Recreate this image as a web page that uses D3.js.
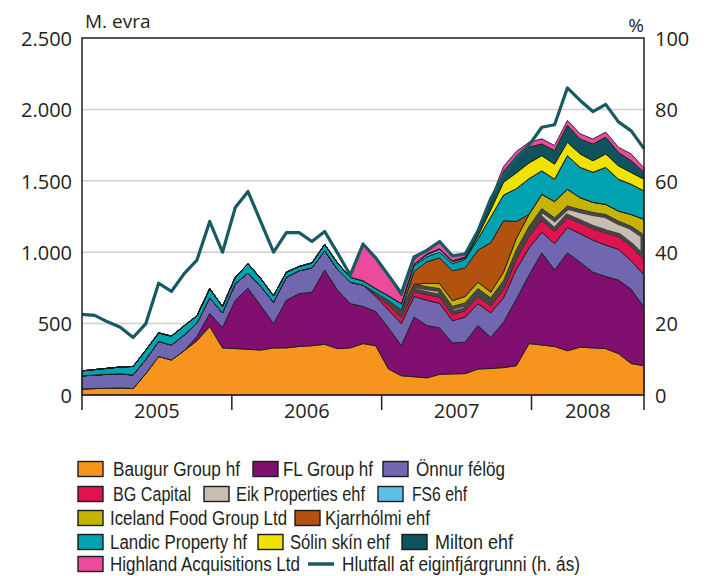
<!DOCTYPE html>
<html>
<head>
<meta charset="utf-8">
<script src="https://cdn.jsdelivr.net/npm/d3@7"></script>
<style>
body { margin: 0; background: #fff; }
svg text { font-family: "Open Sans", sans-serif; fill: #231f20; }
.legend text { font-family: "Liberation Sans", Arial, sans-serif; }
</style>
</head>
<body>
<div id="graph"></div>
<script>
"use strict"

// months, Jan 2005 .. Sep 2008
var months = ["2005-01","2005-02","2005-03","2005-04","2005-05","2005-06","2005-07","2005-08","2005-09","2005-10","2005-11","2005-12",
              "2006-01","2006-02","2006-03","2006-04","2006-05","2006-06","2006-07","2006-08","2006-09","2006-10","2006-11","2006-12",
              "2007-01","2007-02","2007-03","2007-04","2007-05","2007-06","2007-07","2007-08","2007-09","2007-10","2007-11","2007-12",
              "2008-01","2008-02","2008-03","2008-04","2008-05","2008-06","2008-07","2008-08","2008-09"]

// M. evra
var baugur   = [42,45,48,50,45,150,270,245,310,380,480,330,325,320,315,330,330,340,345,355,325,330,360,345,182,135,128,120,145,148,150,182,186,192,205,360,350,340,310,335,330,325,290,220,205]
var flGroup  = [0,0,0,0,0,0,0,0,0,30,90,143,338,428,309,170,333,370,375,520,410,310,260,240,288,210,417,367,325,217,220,305,217,318,465,480,645,535,685,595,530,505,515,520,409]
var onnur    = [92,95,97,98,95,100,105,105,110,95,110,102,117,106,136,150,162,160,170,135,145,150,150,105,125,155,145,176,172,155,175,153,172,170,210,190,145,185,177,200,225,220,215,200,226]
var bgCap    = [0,0,0,0,0,0,0,0,0,0,0,0,0,0,0,0,0,0,0,0,0,0,0,10,35,45,35,40,43,45,45,50,50,60,70,80,85,85,71,75,80,85,90,100,110]
var eik      = [0,0,0,0,0,0,0,0,0,0,0,0,0,0,0,0,0,0,0,0,0,0,0,15,30,50,50,55,60,55,55,55,55,60,65,70,80,95,80,94,113,129,107,141,170]
var fs6      = [0,0,0,0,0,0,0,0,0,0,0,0,0,0,0,0,0,0,0,0,0,0,0,0,0,0,10,15,20,15,10,0,0,0,0,0,0,0,0,0,0,0,0,0,0]
var iceland  = [0,0,0,0,0,0,0,0,0,0,0,0,0,0,0,0,0,0,0,0,0,0,0,0,0,0,0,25,35,40,45,45,40,60,80,85,100,115,118,83,71,71,71,83,110]
var kjarr    = [0,0,0,0,0,0,0,0,0,0,0,0,0,0,0,0,0,0,0,0,0,0,0,0,0,0,90,150,180,210,200,225,346,360,120,0,0,0,0,0,0,0,0,0,0]
var landic   = [35,38,42,48,60,65,60,62,65,50,65,45,45,65,55,45,35,30,35,45,45,35,30,30,35,45,40,35,40,50,60,80,180,180,230,250,165,156,235,212,211,259,223,212,199]
var solin    = [0,0,0,0,0,0,0,0,0,0,0,0,0,0,0,0,0,0,0,0,0,0,0,0,0,0,0,0,0,0,0,20,50,90,110,110,106,106,94,94,80,94,94,82,82]
var milton   = [0,0,0,0,0,0,0,0,0,0,0,0,0,0,0,0,0,0,0,0,0,0,0,0,0,0,0,5,5,5,5,15,45,75,115,110,82,94,118,105,118,118,94,82,49]
var highland = [0,0,0,0,0,0,0,0,0,0,0,0,0,0,0,0,0,0,0,0,0,0,250,220,135,55,35,30,40,35,30,28,30,35,35,35,36,36,35,36,35,35,36,48,30]

// Hlutfall af eiginfjárgrunni, % (right axis)
var hlutfall = [22.6,22.3,20.5,19,16.1,20,31.3,29,34,37.8,48.6,40,52.5,57,48.5,40,45.5,45.5,43,45.8,39.8,33.6,42.3,38.4,33.5,28.5,38.7,40.5,43,39,39.5,46,55,61.5,66.5,70,75,75.7,86,82.5,79.4,81.4,76.5,74,69]

var leftTicks = [0,500,1000,1500,2000,2500]
var rightTicks = [0,20,40,60,80,100]
var years = [2005,2006,2007,2008]

var series = [
    {key: "baugur",   label: "Baugur Group hf",          color: "#f7941d", values: baugur},
    {key: "fl",       label: "FL Group hf",              color: "#800f6f", values: flGroup},
    {key: "onnur",    label: "Önnur félög",              color: "#7167b1", values: onnur},
    {key: "bg",       label: "BG Capital",               color: "#e01250", values: bgCap},
    {key: "eik",      label: "Eik Properties ehf",       color: "#c9bdb2", values: eik},
    {key: "iceland",  label: "Iceland Food Group Ltd",   color: "#c6b300", values: iceland},
    {key: "kjarr",    label: "Kjarrhólmi ehf",           color: "#b2520e", values: kjarr},
    {key: "landic",   label: "Landic Property hf",       color: "#00a2b0", values: landic},
    {key: "fs6",      label: "FS6 ehf",                  color: "#5cc0e9", values: fs6},
    {key: "solin",    label: "Sólin skín ehf",           color: "#efe100", values: solin},
    {key: "milton",   label: "Milton ehf",               color: "#0f545d", values: milton},
    {key: "highland", label: "Highland Acquisitions Ltd",color: "#ec4a9b", values: highland}
]
var lineLabel = "Hlutfall af eiginfjárgrunni (h. ás)"
var lineColor = "#175a62"

var width = 718, height = 576
var margin = {top: 38, left: 82, bottom: 181, right: 74}

main()

function main() {
    var svg = d3.select("#graph").append("svg")
        .attr("width", width).attr("height", height)

    var x = d3.scalePoint().domain(months).range([margin.left, width - margin.right])
    var xt = d3.scaleTime().domain([new Date(2005, 0, 1), new Date(2008, 9, 1)]).range([margin.left, width - margin.right])
    var y = d3.scaleLinear().domain([0, 2500]).range([height - margin.bottom, margin.top])
    var y2 = d3.scaleLinear().domain([0, 100]).range([height - margin.bottom, margin.top])

    var table = months.map(function(m, i) {
        var row = {month: m}
        series.forEach(function(s) { row[s.key] = s.values[i] })
        return row
    })
    var stacked = d3.stack().keys(series.map(function(s) { return s.key }))(table)

    // grid
    svg.append("g").selectAll("line")
        .data(leftTicks.filter(function(d) { return d > 0 && d < 2500 }))
        .enter().append("line")
        .attr("x1", x.range()[0]).attr("x2", x.range()[1])
        .attr("y1", y).attr("y2", y)
        .attr("stroke", "#cfcfcf").attr("stroke-width", 1.5)

    var area = d3.area()
        .x(function(d) { return x(d.data.month) })
        .y0(function(d) { return y(d[0]) })
        .y1(function(d) { return y(d[1]) })

    var colorOf = {}
    series.forEach(function(s) { colorOf[s.key] = s.color })

    svg.append("g").selectAll("path")
        .data(stacked)
        .enter().append("path")
        .attr("d", area)
        .attr("fill", function(d) { return colorOf[d.key] })
        .attr("stroke", "#1c1c1c")
        .attr("stroke-width", 0.9)
        .attr("stroke-linejoin", "round")

    // Eik band has heavy dark edges
    var eikLayer = stacked.filter(function(d) { return d.key == "eik" })[0]
    var defs = svg.append("defs")
    defs.append("clipPath").attr("id", "eikclip").append("path").attr("d", area(eikLayer))
    svg.append("path")
        .attr("d", area(eikLayer))
        .attr("fill", "none")
        .attr("stroke", "#454545")
        .attr("stroke-width", 7)
        .attr("clip-path", "url(#eikclip)")

    // ratio line
    var line = d3.line()
        .x(function(d, i) { return x(months[i]) })
        .y(function(d) { return y2(d) })
    svg.append("path")
        .attr("d", line(hlutfall))
        .attr("fill", "none")
        .attr("stroke", lineColor)
        .attr("stroke-width", 3.2)
        .attr("stroke-linejoin", "round")

    // frame
    var x0 = x.range()[0], x1 = x.range()[1]
    svg.append("path")
        .attr("d", "M" + x0 + "," + y(0) + "V" + y(2500) + "H" + x1 + "V" + y(0) + "Z")
        .attr("fill", "none").attr("stroke", "#231f20").attr("stroke-width", 1.5)

    // left axis
    var fmt = function(d) { return d3.format(",")(d).replace(",", ".") }
    var left = svg.append("g")
        .attr("transform", "translate(" + (x0 - 10) + ",0)")
        .call(d3.axisLeft(y).tickValues(leftTicks).tickSize(0).tickPadding(0).tickFormat(fmt))
    left.select(".domain").remove()
    left.selectAll("text").attr("font-size", 20).attr("dy", "0.36em")

    var right = svg.append("g")
        .attr("transform", "translate(" + (x1 + 11) + ",0)")
        .call(d3.axisRight(y2).tickValues(rightTicks).tickSize(0).tickPadding(0))
    right.select(".domain").remove()
    right.selectAll("text").attr("font-size", 20).attr("dy", "0.36em")

    svg.append("text").attr("x", 85).attr("y", 28).attr("font-size", 19).text("M. evra")
    svg.append("text").attr("x", x1).attr("y", 32).attr("font-size", 19).attr("text-anchor", "end").text("%")

    // x axis: year boundaries and labels
    var bounds = [xt.domain()[0]].concat(years.slice(1).map(function(yr) { return new Date(yr, 0, 1) })).concat([xt.domain()[1]])
    svg.append("g").selectAll("line")
        .data(bounds)
        .enter().append("line")
        .attr("x1", xt).attr("x2", xt)
        .attr("y1", y(0)).attr("y2", y(0) + 15)
        .attr("stroke", "#231f20").attr("stroke-width", 1.5)
    svg.append("g").selectAll("text")
        .data(years)
        .enter().append("text")
        .attr("x", function(d, i) { return (xt(bounds[i]) + xt(bounds[i + 1])) / 2 })
        .attr("y", y(0) + 23)
        .attr("font-size", 20)
        .attr("text-anchor", "middle")
        .text(function(d) { return d })

    drawLegend(svg)
}

function drawLegend(svg) {
    var byLabel = {}
    series.forEach(function(s) { byLabel[s.label] = s })
    // legend entries per row: [label, swatch x, text x, text width]
    var rows = [
        [["Baugur Group hf", 78, 113, 127], ["FL Group hf", 253, 283, 90], ["Önnur félög", 383, 416, 89]],
        [["BG Capital", 78, 113, 78], ["Eik Properties ehf", 204, 236, 129], ["FS6 ehf", 378, 412, 55]],
        [["Iceland Food Group Ltd", 78, 110, 177], ["Kjarrhólmi ehf", 295, 325, 105]],
        [["Landic Property hf", 78, 110, 137], ["Sólin skín ehf", 258, 290, 100], ["Milton ehf", 402, 435, 78]],
        [["Highland Acquisitions Ltd", 78, 110, 190], [lineLabel, 308, 342, 238]]
    ]
    var rowY = [469, 494, 518, 542, 564]
    var g = svg.append("g").attr("class", "legend")
    rows.forEach(function(row, r) {
        row.forEach(function(item) {
            var cy = rowY[r]
            var s = byLabel[item[0]]
            if (s) {
                g.append("rect")
                    .attr("x", item[1]).attr("y", cy - 7.5)
                    .attr("width", 25).attr("height", 15)
                    .attr("fill", s.color).attr("stroke", "#1c1c1c").attr("stroke-width", 1.4)
            } else {
                g.append("line")
                    .attr("x1", item[1]).attr("x2", item[1] + 26)
                    .attr("y1", cy).attr("y2", cy)
                    .attr("stroke", lineColor).attr("stroke-width", 3.5)
            }
            g.append("text").attr("x", item[2]).attr("y", cy).attr("dy", "0.36em")
                .attr("font-size", 20)
                .attr("textLength", item[3]).attr("lengthAdjust", "spacingAndGlyphs")
                .text(item[0])
        })
    })
}
</script>
</body>
</html>
